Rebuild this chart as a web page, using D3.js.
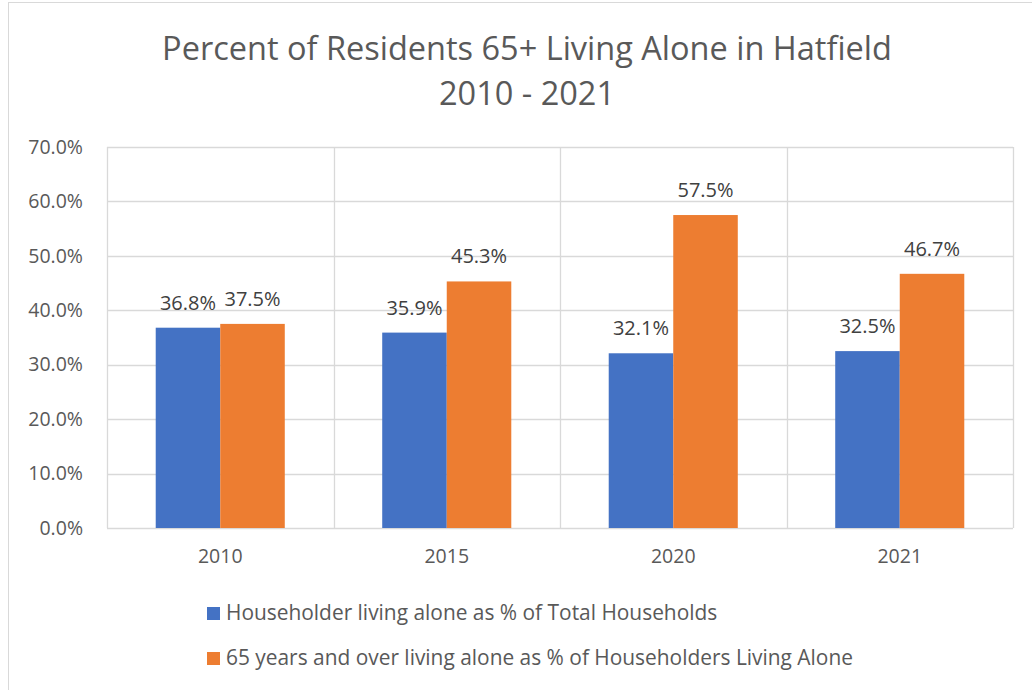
<!DOCTYPE html>
<html>
<head>
<meta charset="utf-8">
<script src="https://cdn.jsdelivr.net/npm/d3@7"></script>
<style>
  html, body { margin: 0; padding: 0; background: #fff; }
  svg { display: block; font-family: "Open Sans", "Noto Sans", sans-serif; }
</style>
</head>
<body>
<svg id="chart" width="1032" height="690"></svg>
<script>
// Chart data
const years = ["2010", "2015", "2020", "2021"];
const seriesNames = [
  "Householder living alone as % of Total Households",
  "65 years and over living alone as % of Householders Living Alone"
];
const householderAlone = [36.8, 35.9, 32.1, 32.5];
const seniorsAlone = [37.5, 45.3, 57.5, 46.7];
const yTicks = [0, 10, 20, 30, 40, 50, 60, 70];
const titleLines = ["Percent of Residents 65+ Living Alone in Hatfield", "2010 - 2021"];

const colors = ["#4472C4", "#ED7D31"];
const textColor = "#595959";
const gridColor = "#d9d9d9";

const svg = d3.select("#chart");

// Outer chart frame
svg.append("rect")
  .attr("x", 8.5).attr("y", 2.5)
  .attr("width", 1100).attr("height", 800)
  .attr("fill", "#fff")
  .attr("stroke", "#d9d9d9").attr("stroke-width", 1);

const margin = { left: 107, right: 1013, top: 147, bottom: 528 };

const x = d3.scaleBand().domain(years).range([margin.left, margin.right]).paddingInner(0).paddingOuter(0);
const inner = d3.scaleBand().domain([0, 1]).range([0, x.bandwidth()]).paddingInner(0).paddingOuter(0.755);
const y = d3.scaleLinear().domain([0, 70]).range([margin.bottom, margin.top]);

// Horizontal gridlines
svg.append("g").selectAll("line").data(yTicks).join("line")
  .attr("x1", margin.left).attr("x2", margin.right)
  .attr("y1", d => Math.round(y(d)) + 0.5).attr("y2", d => Math.round(y(d)) + 0.5)
  .attr("stroke", gridColor).attr("stroke-width", 1.3);

// Vertical category dividers
const dividers = years.map(d => x(d)).concat([margin.right]);
svg.append("g").selectAll("line").data(dividers).join("line")
  .attr("x1", d => Math.round(d) + 0.5).attr("x2", d => Math.round(d) + 0.5)
  .attr("y1", margin.top).attr("y2", margin.bottom)
  .attr("stroke", gridColor).attr("stroke-width", 1.3);

// Y axis labels
const yAxis = d3.axisLeft(y).tickValues(yTicks).tickSize(0).tickPadding(24)
  .tickFormat(d => d.toFixed(1) + "%");
const yg = svg.append("g").attr("transform", `translate(${margin.left},0)`).call(yAxis);
yg.select(".domain").remove();
yg.selectAll("text").attr("fill", textColor).attr("font-size", 19.5)
  .attr("font-family", "\"Open Sans\", sans-serif");

// X axis labels
const xAxis = d3.axisBottom(x).tickSize(0).tickPadding(21);
const xg = svg.append("g").attr("transform", `translate(0,${margin.bottom})`).call(xAxis);
xg.select(".domain").remove();
xg.selectAll("text").attr("fill", textColor).attr("font-size", 19.5)
  .attr("font-family", "\"Open Sans\", sans-serif");

// Bars and value labels
const series = [householderAlone, seniorsAlone];
series.forEach((vals, si) => {
  const g = svg.append("g");
  g.selectAll("rect").data(vals).join("rect")
    .attr("x", (d, i) => x(years[i]) + inner(si))
    .attr("width", inner.bandwidth())
    .attr("y", d => y(d))
    .attr("height", d => y(0) - y(d))
    .attr("fill", colors[si]);
  g.selectAll("text").data(vals).join("text")
    .attr("x", (d, i) => x(years[i]) + inner(si) + inner.bandwidth() / 2)
    .attr("y", d => y(d) - 18)
    .attr("text-anchor", "middle")
    .attr("fill", "#404040")
    .attr("font-size", 20)
    .text(d => d.toFixed(1) + "%");
});

// Title
svg.append("g").selectAll("text").data(titleLines).join("text")
  .attr("x", 527)
  .attr("y", (d, i) => 60 + i * 45)
  .attr("text-anchor", "middle")
  .attr("fill", textColor)
  .attr("font-size", 32.5)
  .text(d => d);

// Legend
const legend = svg.append("g").selectAll("g").data(seriesNames).join("g")
  .attr("transform", (d, i) => `translate(207,${607 + i * 45})`);
legend.append("rect").attr("width", 13).attr("height", 13).attr("fill", (d, i) => colors[i]);
legend.append("text").attr("x", 19).attr("y", 13)
  .attr("fill", textColor).attr("font-size", 20.9).text(d => d);
</script>
</body>
</html>
